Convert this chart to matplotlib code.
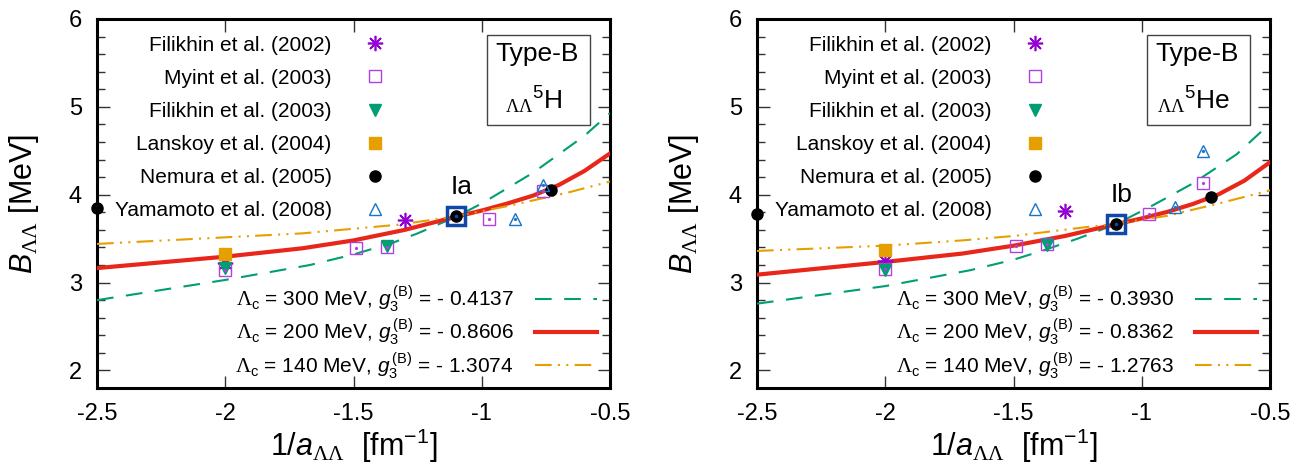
import numpy as np
import matplotlib
matplotlib.use("Agg")
import matplotlib.pyplot as plt
from matplotlib.patches import Rectangle

plt.rcParams["font.family"] = ["Liberation Sans", "DejaVu Sans"]
plt.rcParams["mathtext.fontset"] = "custom"
plt.rcParams["mathtext.rm"] = "Liberation Sans"
plt.rcParams["mathtext.it"] = "Liberation Sans:italic"
plt.rcParams["mathtext.sf"] = "Liberation Serif"

# --- data --------------------------------------------------------------
# reference calculations (x = 1/a_LL, left: 5H, right: 5He)
fil02_x = [-2.0, -1.3]
fil02_H = [3.22, 3.71]
fil02_He = [3.25, 3.81]

myint_x = [-2.0, -1.49, -1.37, -0.97, -0.76]
myint_H = [3.14, 3.395, 3.405, 3.72, 4.04]
myint_He = [3.15, 3.42, 3.44, 3.775, 4.13]

fil03_x = [-2.0, -1.37]
fil03_H = [3.17, 3.42]
fil03_He = [3.14, 3.43]

lan_x = [-2.0]
lan_H = [3.32]
lan_He = [3.375]

nem_x = [-2.5, -1.1, -0.73]
nem_H = [3.845, 3.755, 4.05]
nem_He = [3.78, 3.665, 3.97]

yam_x = [-0.87, -0.76]
yam_H = [3.725, 4.115]
yam_He = [3.855, 4.50]

# highlighted points
mark_x = [-1.1]
mark_H = [3.755]
mark_He = [3.665]
mark_names = ["Ia", "Ib"]

# curves, Lambda_c = 300 / 200 / 140 MeV
c300_x_H = [-2.5, -2.0, -1.67, -1.5, -1.35, -1.25, -1.1, -1.0, -0.8, -0.6, -0.5]
c300_H = [2.80, 3.03, 3.20, 3.32, 3.45, 3.56, 3.75, 3.90, 4.25, 4.67, 4.93]
c200_x_H = [-2.5, -2.0, -1.7, -1.5, -1.3, -1.1, -1.0, -0.9, -0.8, -0.7, -0.6, -0.5]
c200_H = [3.165, 3.295, 3.39, 3.48, 3.60, 3.75, 3.82, 3.90, 3.99, 4.11, 4.27, 4.47]
c140_x_H = [-2.5, -2.0, -1.7, -1.32, -1.1, -0.9, -0.67, -0.5]
c140_H = [3.44, 3.515, 3.56, 3.66, 3.755, 3.87, 4.02, 4.15]

c300_x_He = [-2.5, -2.0, -1.67, -1.5, -1.38, -1.25, -1.1, -0.95, -0.8, -0.63, -0.5]
c300_He = [2.76, 2.96, 3.14, 3.26, 3.37, 3.50, 3.665, 3.89, 4.13, 4.46, 4.81]
c200_x_He = [-2.5, -2.0, -1.7, -1.5, -1.3, -1.1, -1.0, -0.9, -0.8, -0.7, -0.6, -0.5]
c200_He = [3.09, 3.235, 3.33, 3.42, 3.53, 3.665, 3.73, 3.805, 3.895, 4.005, 4.16, 4.37]
c140_x_He = [-2.5, -2.0, -1.7, -1.5, -1.22, -1.1, -0.9, -0.7, -0.5]
c140_He = [3.36, 3.42, 3.48, 3.53, 3.63, 3.67, 3.76, 3.90, 4.05]

g3_H = ["- 0.4137", "- 0.8606", "- 1.3074"]
g3_He = ["- 0.3930", "- 0.8362", "- 1.2763"]
lam_c = [300, 200, 140]
nuclei = ["H", "He"]

ref_labels = ["Filikhin et al. (2002)", "Myint et al. (2003)",
              "Filikhin et al. (2003)", "Lanskoy et al. (2004)",
              "Nemura et al. (2005)", "Yamamoto et al. (2008)"]

LL = r"\mathsf{\Lambda\Lambda}"


def draw_panel(ax, ys, curves, g3, nucleus, mark_y, mark_name):
    styles = [
        dict(marker=(8, 2, 0), ms=11, mew=1.2, color="#9400d3", mfc="none"),
        dict(marker="s", ms=9, mew=1.0, color="#b041e0", mfc="none"),
        dict(marker="v", ms=9, color="#009e73"),
        dict(marker="s", ms=9, color="#e69f00"),
        dict(marker="o", ms=8, color="black"),
        dict(marker="^", ms=9, mew=1.0, color="#1874c8", mfc="none"),
    ]
    xs = [fil02_x, myint_x, fil03_x, lan_x, nem_x, yam_x]
    handles = []
    for x, y, st, lab in zip(xs, ys, styles, ref_labels):
        h, = ax.plot(x, y, ls="none", label=lab, clip_on=False, zorder=4, **st)
        handles.append(h)
    # the little centre dots of the open gnuplot symbols
    for x, y, c in [(myint_x, ys[1], "#b041e0"), (yam_x, ys[5], "#1874c8")]:
        ax.plot(x, y, ls="none", marker="o", ms=1.3, color=c, zorder=4)

    ax.plot(mark_x, mark_y, ls="none", marker="s", ms=13, mew=2.5,
            mfc="none", mec="#1048a8", zorder=5)
    ax.plot(mark_x, mark_y, ls="none", marker="o", ms=1.6, color="#1048a8",
            zorder=5)
    ax.text(mark_x[0] + 0.02, mark_y[0] + 0.2, mark_name, fontsize=19,
            ha="center", va="bottom")

    cstyles = [
        dict(color="#009e73", lw=1.5, ls=(0, (8, 6))),
        dict(color="#e8261a", lw=3.0, ls="-"),
        dict(color="#e69f00", lw=1.5, ls=(0, (8, 3, 1, 3, 1, 3))),
    ]
    chandles = []
    for (cx, cy), st, lc, g in zip(curves, cstyles, lam_c, g3):
        lab = (r"$\mathsf{\Lambda}_\mathrm{c}$ = %d MeV, "
               r"$g_3^{\,\mathrm{(B)}}$ = %s" % (lc, g))
        h, = ax.plot(cx, cy, label=lab, zorder=3, **st)
        chandles.append(h)

    leg1 = ax.legend(handles=handles, loc="upper right",
                     bbox_to_anchor=(0.583, 0.955), frameon=False,
                     markerfirst=False, fontsize=15, handlelength=2.0,
                     handletextpad=1.1, labelspacing=0.68, borderpad=0,
                     borderaxespad=0)
    ax.add_artist(leg1)
    ax.legend(handles=chandles, loc="lower right",
              bbox_to_anchor=(0.975, 0.02), frameon=False,
              markerfirst=False, fontsize=15, handlelength=3.0,
              handletextpad=1.0, labelspacing=0.12, borderpad=0,
              borderaxespad=0)

    ax.add_patch(Rectangle((0.760, 0.713), 0.201, 0.244,
                           transform=ax.transAxes, fill=False,
                           ec="#444444", lw=1.0, zorder=6))
    ax.text(0.858, 0.905, "Type-B", transform=ax.transAxes, fontsize=19,
            ha="center", va="center")
    ax.text(0.852, 0.78, r"${}_{%s}{}^{5}\mathrm{%s}$" % (LL, nucleus),
            transform=ax.transAxes, fontsize=19, ha="center", va="center")

    ax.set_xlim(-2.5, -0.5)
    ax.set_ylim(1.8, 6.0)
    ax.set_xticks([-2.5, -2.0, -1.5, -1.0, -0.5])
    ax.set_xticklabels(["-2.5", "-2", "-1.5", "-1", "-0.5"])
    ax.set_yticks([2, 3, 4, 5, 6])
    ax.set_yticks(np.arange(1.8, 6.01, 0.2), minor=True)
    ax.tick_params(which="both", direction="in", top=True, right=True,
                   labelsize=17, width=1.0, color="#333333")
    ax.tick_params(which="major", length=9, pad=11)
    ax.tick_params(which="minor", length=6)
    for sp in ax.spines.values():
        sp.set_linewidth(2.2)

    ax.set_ylabel(r"$B_{%s}$ [MeV]" % LL, fontsize=22)
    ax.set_xlabel(r"1/$a_{%s}$  [fm$^{-1}$]" % LL, fontsize=22)
    ax.yaxis.set_label_coords(-0.11, 0.5)
    ax.xaxis.set_label_coords(0.5, -0.105)


fig = plt.figure(figsize=(13.15, 4.71), dpi=100)
ax1 = fig.add_axes([0.0738, 0.1762, 0.3901, 0.7835])
ax2 = fig.add_axes([0.5757, 0.1762, 0.3901, 0.7835])

draw_panel(ax1, [fil02_H, myint_H, fil03_H, lan_H, nem_H, yam_H],
           [(c300_x_H, c300_H), (c200_x_H, c200_H), (c140_x_H, c140_H)],
           g3_H, nuclei[0], mark_H, mark_names[0])
draw_panel(ax2, [fil02_He, myint_He, fil03_He, lan_He, nem_He, yam_He],
           [(c300_x_He, c300_He), (c200_x_He, c200_He), (c140_x_He, c140_He)],
           g3_He, nuclei[1], mark_He, mark_names[1])

fig.savefig("out.png", dpi=100)
